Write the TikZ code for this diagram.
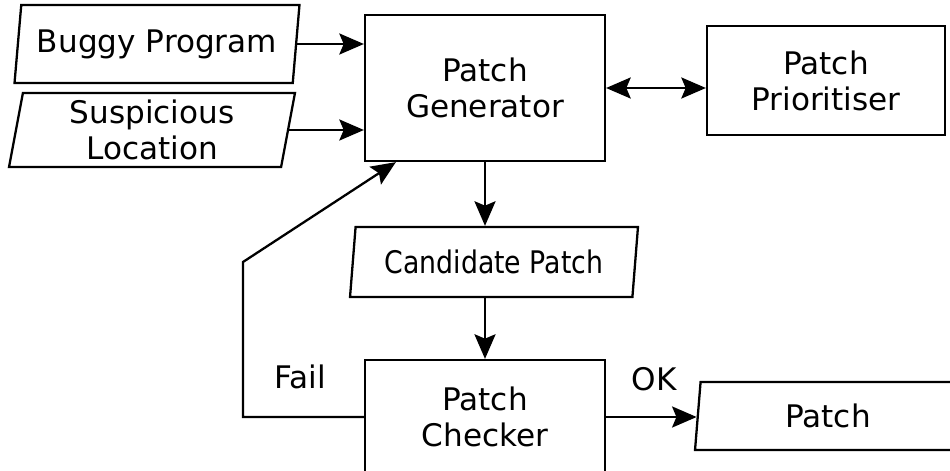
\documentclass[tikz,border=0pt]{standalone}
\usepackage{fontspec}
\setmainfont{DejaVu Sans}
\usetikzlibrary{shapes.geometric,arrows.meta}

\begin{document}
\begin{tikzpicture}[x=0.02cm,y=-0.02cm,line width=1.3pt,
    font=\fontsize{17.7}{20.5}\selectfont,
    box/.style={draw,rectangle,align=center,minimum width=4.8cm},
    data/.style={draw,trapezium,trapezium left angle=77,trapezium right angle=103,
      trapezium stretches body,align=center,inner sep=0pt},
    arr/.style={-{Stealth[length=14pt,width=12pt,inset=2.5pt]}},
    biarr/.style={{Stealth[length=14pt,width=12pt,inset=2.5pt]}-{Stealth[length=14pt,width=12pt,inset=2.5pt]}}]
      \useasboundingbox (0,0) rectangle (950,470);

      \node[data,minimum width=5.7cm,minimum height=1.56cm] (buggy) at (157,44) {Buggy Program};
      \node[data,minimum width=5.72cm,minimum height=1.48cm] (susp) at (152,130) {Suspicious\\Location};
      \node[box,minimum height=2.92cm] (gen) at (485,88) {Patch\\Generator};
      \node[box,minimum width=4.76cm,minimum height=2.18cm] (prio) at (826,80.5) {Patch\\Prioritiser};
      \node[data,minimum width=5.76cm,minimum height=1.4cm] (cand) at (494,262) {\scalebox{0.86}[1]{Candidate Patch}};
      \node[box,minimum height=2.28cm] (check) at (485,417) {Patch\\Checker};
      \node[data,minimum width=5.32cm,minimum height=1.36cm] (out) at (828,416) {Patch};

      \node (fail) at (300,377) {Fail};
      \node (ok) at (654,379) {OK};

      \coordinate (bend) at (243,262);
      \coordinate (back) at ([xshift=0.64cm]gen.south west);

      \draw[arr] (buggy.east) -- (buggy.east -| gen.west);
      \draw[arr] (susp.east) -- (susp.east -| gen.west);
      \draw[biarr] (gen.east) -- (gen.east -| prio.west);
      \draw[arr] (gen.south) -- (gen.south |- cand.north);
      \draw[arr] (check.north |- cand.south) -- (check.north);
      \draw[arr] (check.west) -| (bend) -- (back);
      \draw[arr] (check.east) -- (check.east -| out.west);
    \end{tikzpicture}
\end{document}
